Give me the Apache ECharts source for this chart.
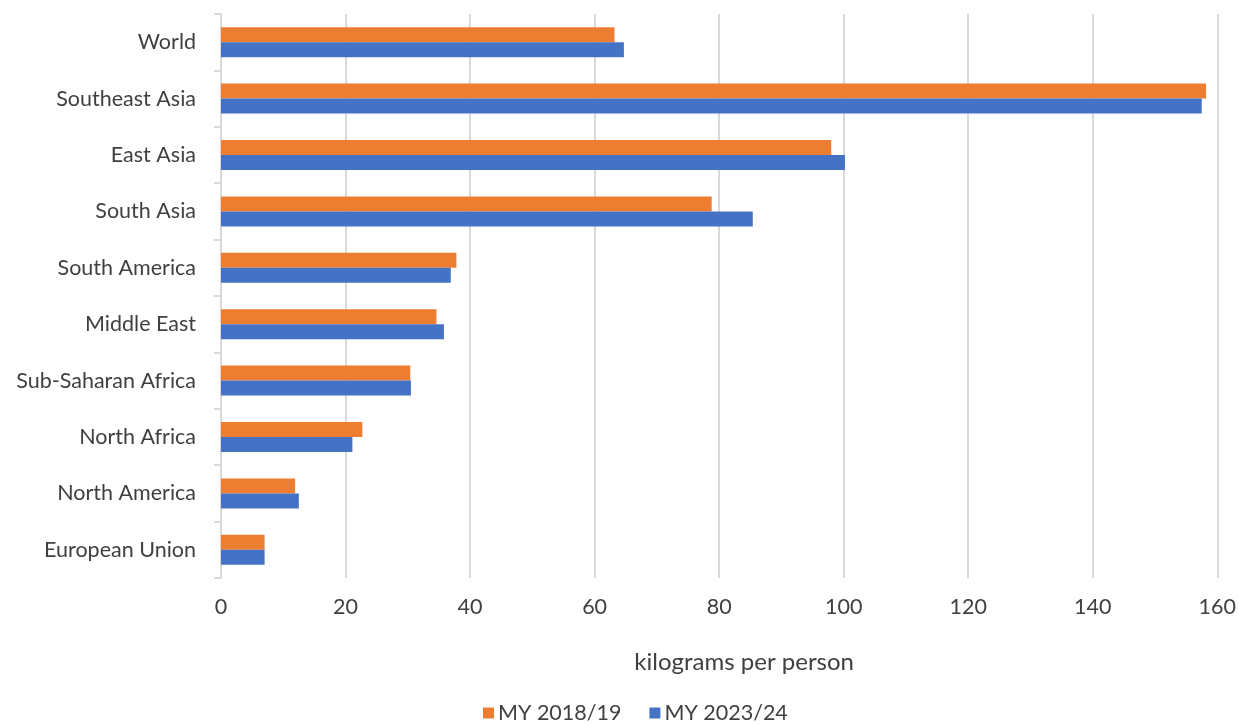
<!DOCTYPE html>
<html>
<head>
<meta charset="utf-8">
<script src="https://cdn.jsdelivr.net/npm/echarts@6/dist/echarts.min.js"></script>
<style>
html,body{margin:0;padding:0;background:#fff;}
#chart{width:1239px;height:725px;}
</style>
</head>
<body>
<div id="chart"></div>
<script>
const categories = ["World","Southeast Asia","East Asia","South Asia","South America","Middle East","Sub-Saharan Africa","North Africa","North America","European Union"];
const my2018 = [63.2, 158.2, 98.0, 78.8, 37.8, 34.6, 30.4, 22.7, 11.9, 7.0];
const my2023 = [64.7, 157.5, 100.2, 85.4, 36.9, 35.8, 30.5, 21.1, 12.5, 7.0];
const xTicks = [0, 20, 40, 60, 80, 100, 120, 140, 160];
const seriesNames = ["MY 2018/19", "MY 2023/24"];
const axisTitle = "kilograms per person";

const FONT = "Lato";
const chart = echarts.init(document.getElementById('chart'), null, {renderer:'canvas'});
chart.setOption({
  animation: false,
  backgroundColor: '#ffffff',
  textStyle: {fontFamily: FONT},
  grid: {left: 221, right: 20, top: 14, height: 564, containLabel: false},
  legend: {
    data: seriesNames,
    bottom: -4,
    left: 478,
    itemWidth: 11, itemHeight: 11, itemGap: 28,
    icon: 'rect',
    textStyle: {fontFamily: FONT, fontSize: 21.5, color: '#404040', padding: [0,0,0,-1]}
  },
  xAxis: {
    type: 'value',
    min: xTicks[0], max: xTicks[xTicks.length-1], interval: 20,
    axisLine: {show: false},
    axisTick: {show: false},
    splitLine: {show: true, lineStyle: {color: '#d9d9d9', width: 2}},
    axisLabel: {fontFamily: FONT, fontSize: 21.5, color: '#404040', margin: 18},
    name: axisTitle,
    nameLocation: 'middle',
    nameGap: 72,
    nameTextStyle: {fontFamily: FONT, fontSize: 24, color: '#404040', padding: [0, 0, 0, 50]}
  },
  yAxis: {
    type: 'category',
    data: categories,
    inverse: true,
    axisLine: {show: true, lineStyle: {color: '#d9d9d9', width: 2}},
    axisTick: {show: true, length: 7, lineStyle: {color: '#d9d9d9', width: 2}},
    axisLabel: {fontFamily: FONT, fontSize: 21.5, color: '#404040', margin: 25}
  },
  series: [
    {name: seriesNames[0], type: 'bar', data: my2018, barWidth: 15, barGap: '0%',
     itemStyle: {color: '#ED7D31'}},
    {name: seriesNames[1], type: 'bar', data: my2023, barWidth: 15, barGap: '0%',
     itemStyle: {color: '#4472C4'}}
  ]
});
</script>
</body>
</html>
